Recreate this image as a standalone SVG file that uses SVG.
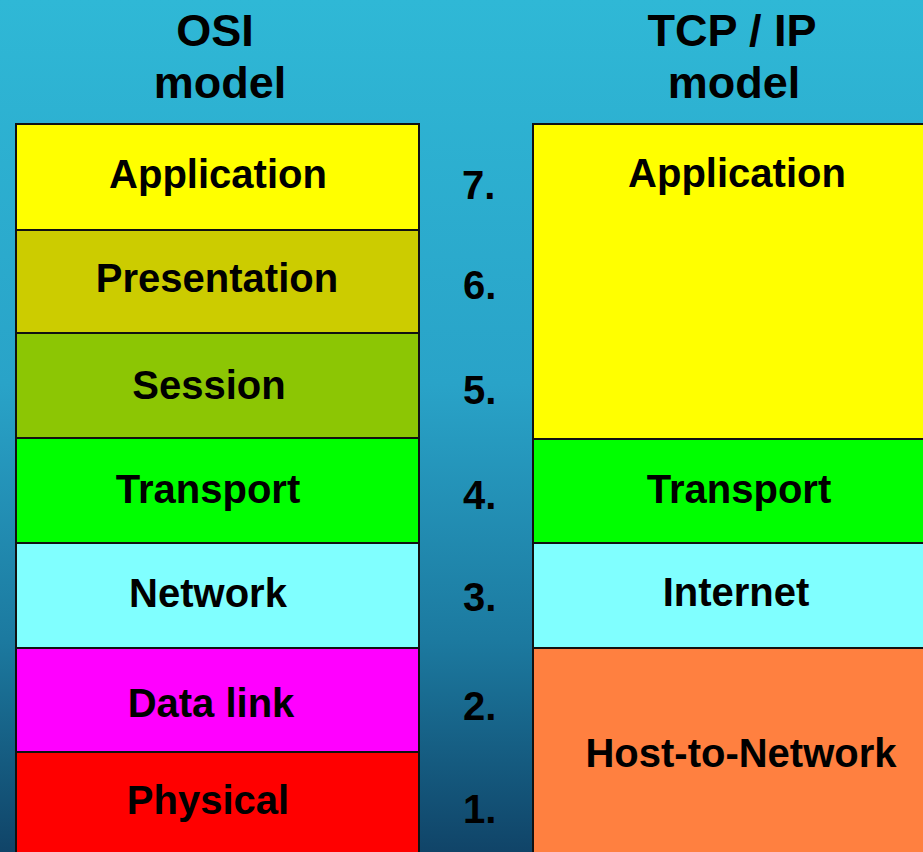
<svg xmlns="http://www.w3.org/2000/svg" width="923" height="852" viewBox="0 0 923 852">
<defs>
<linearGradient id="bg" x1="0" y1="0" x2="0" y2="1">
<stop offset="0" stop-color="#2fb8d6"/>
<stop offset="0.45" stop-color="#29a3c8"/>
<stop offset="0.75" stop-color="#1c7aa0"/>
<stop offset="1" stop-color="#104468"/>
</linearGradient>
<style>
.box{stroke:#111;stroke-width:2}
.t{font-family:"Liberation Sans",Arial,sans-serif;font-weight:bold;font-size:40px;fill:#000;text-anchor:middle}
.h{font-family:"Liberation Sans",Arial,sans-serif;font-weight:bold;font-size:45px;fill:#000;text-anchor:middle}
.n{font-family:"Liberation Sans",Arial,sans-serif;font-weight:bold;font-size:40px;fill:#000}
</style>
</defs>
<rect x="0" y="0" width="923" height="852" fill="url(#bg)"/>
<g id="headings">
<text class="h" x="215" y="46">OSI</text>
<text class="h" x="220" y="98">model</text>
<text class="h" x="732" y="46">TCP / IP</text>
<text class="h" x="734" y="98">model</text>
</g>
<g id="osi">
<g id="osi-application"><rect class="box" x="16" y="124" width="403" height="106" fill="#ffff00"/><text class="t" x="218" y="188">Application</text></g>
<g id="osi-presentation"><rect class="box" x="16" y="230" width="403" height="103" fill="#cccc00"/><text class="t" x="217" y="292">Presentation</text></g>
<g id="osi-session"><rect class="box" x="16" y="333" width="403" height="105" fill="#8cc604"/><text class="t" x="209" y="399">Session</text></g>
<g id="osi-transport"><rect class="box" x="16" y="438" width="403" height="105" fill="#00ff00"/><text class="t" x="208" y="503">Transport</text></g>
<g id="osi-network"><rect class="box" x="16" y="543" width="403" height="105" fill="#80ffff"/><text class="t" x="208" y="607">Network</text></g>
<g id="osi-datalink"><rect class="box" x="16" y="648" width="403" height="104" fill="#ff00ff"/><text class="t" x="211" y="717">Data link</text></g>
<g id="osi-physical"><rect class="box" x="16" y="752" width="403" height="110" fill="#ff0000"/><text class="t" x="208" y="814">Physical</text></g>
</g>
<g id="numbers">
<text class="n" x="462" y="199">7.</text>
<text class="n" x="463" y="299">6.</text>
<text class="n" x="463" y="404">5.</text>
<text class="n" x="463" y="509">4.</text>
<text class="n" x="463" y="611">3.</text>
<text class="n" x="463" y="720">2.</text>
<text class="n" x="463" y="823">1.</text>
</g>
<g id="tcpip">
<g id="tcp-application"><rect class="box" x="533" y="124" width="420" height="315" fill="#ffff00"/><text class="t" x="737" y="187">Application</text></g>
<g id="tcp-transport"><rect class="box" x="533" y="439" width="420" height="104" fill="#00ff00"/><text class="t" x="739" y="503">Transport</text></g>
<g id="tcp-internet"><rect class="box" x="533" y="543" width="420" height="105" fill="#80ffff"/><text class="t" x="736" y="606">Internet</text></g>
<g id="tcp-host"><rect class="box" x="533" y="648" width="420" height="214" fill="#ff8040"/><text class="t" x="741" y="767">Host-to-Network</text></g>
</g>
<g id="connectors"/>
</svg>
